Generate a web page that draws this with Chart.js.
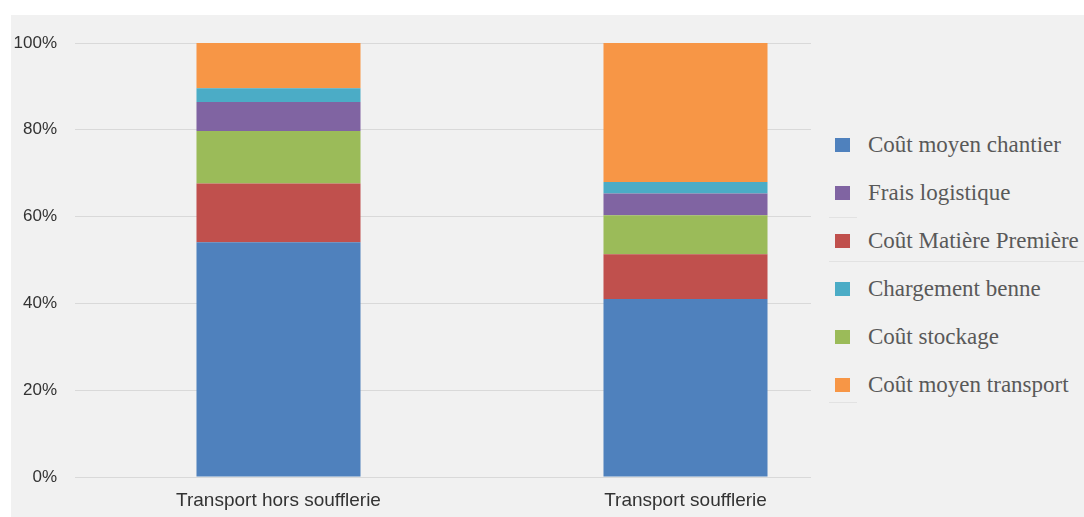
<!DOCTYPE html>
<html lang="fr">
<head>
    <meta charset="UTF-8">
    <title>Répartition des coûts</title>
    <script src="https://cdn.jsdelivr.net/npm/chart.js"></script>
    <style>
        body { margin: 0; background: #ffffff; }
        #wrap { position: relative; width: 1084px; height: 517px; overflow: hidden; }
        #panel { position: absolute; left: 11px; top: 15px; right: 0; bottom: 0; background: #f1f1f1; }
        #chartBox { position: absolute; left: 0; top: 0; width: 1084px; height: 517px; }
        #legend { position: absolute; left: 811px; top: 15px; width: 273px; height: 502px; background: #f1f1f1; }
        .item { position: absolute; left: 0; right: 0; height: 30px; display: flex; align-items: center; }
        .box { position: absolute; left: 24px; width: 15px; height: 14px; }
        .txt { position: absolute; left: 57px; font-family: 'Liberation Serif', serif; font-size: 23px; color: #595959; white-space: nowrap; }
        .sep { position: absolute; left: 18px; height: 1px; background: #e2e2e2; }
    </style>
</head>
<body>
    <div id="wrap">
        <div id="panel"></div>
        <div id="chartBox"><canvas id="costChart"></canvas></div>
        <div id="legend"></div>
    </div>

    <script>
        // categories and values (share of total cost, %)
        const categories = ["Transport hors soufflerie", "Transport soufflerie"];
        const chantier   = [54.1, 41.0];
        const matiere    = [13.5, 10.3];
        const stockage   = [12.1, 9.0];
        const logistique = [6.7, 5.0];
        const chargement = [3.2, 2.7];
        const transport  = [10.4, 32.0];
        const yTicks = [0, 20, 40, 60, 80, 100];

        // legend order as in the original
        const legendOrder = ["Coût moyen chantier", "Frais logistique", "Coût Matière Première",
                             "Chargement benne", "Coût stockage", "Coût moyen transport"];

        const datasets = [
            { label: "Coût moyen chantier",   data: chantier,   backgroundColor: "#4f81bd" },
            { label: "Coût Matière Première", data: matiere,    backgroundColor: "#c0504d" },
            { label: "Coût stockage",         data: stockage,   backgroundColor: "#9bbb59" },
            { label: "Frais logistique",      data: logistique, backgroundColor: "#8064a2" },
            { label: "Chargement benne",      data: chargement, backgroundColor: "#4bacc6" },
            { label: "Coût moyen transport",  data: transport,  backgroundColor: "#f79646" }
        ];

        const chart = new Chart(document.getElementById("costChart"), {
            type: "bar",
            data: { labels: categories, datasets: datasets },
            options: {
                responsive: true,
                maintainAspectRatio: false,
                animation: false,
                layout: { padding: { top: 43, right: 195, bottom: 0, left: 0 } },
                datasets: { bar: { categoryPercentage: 1, barPercentage: 0.403, borderWidth: 0 } },
                plugins: { legend: { display: false }, tooltip: { enabled: false } },
                scales: {
                    x: {
                        stacked: true,
                        grid: { display: false, drawTicks: false },
                        border: { color: "#d9d9d9", width: 1 },
                        ticks: { padding: 12, color: "#333333", font: { family: "'Liberation Sans', Arial, sans-serif", size: 19 } },
                        afterFit: (scale) => { scale.height = 40; }
                    },
                    y: {
                        stacked: true,
                        min: 0,
                        max: 100,
                        afterBuildTicks: (scale) => { scale.ticks = yTicks.map(v => ({ value: v })); },
                        grid: { color: "#d9d9d9", lineWidth: 1, drawTicks: false },
                        border: { display: false },
                        ticks: {
                            padding: 18,
                            color: "#333333",
                            font: { family: "'Liberation Sans', Arial, sans-serif", size: 17 },
                            callback: (v) => v + "%"
                        },
                        afterFit: (scale) => { scale.width = 75; }
                    }
                }
            }
        });

        // HTML legend built from the datasets
        const legend = document.getElementById("legend");
        legendOrder.forEach((name, i) => {
            const ds = chart.data.datasets.find(d => d.label === name);
            const item = document.createElement("div");
            item.className = "item";
            item.style.top = (114.5 + i * 48.1) + "px";
            item.innerHTML = '<span class="box" style="background:' + ds.backgroundColor + '"></span>' +
                             '<span class="txt">' + name + '</span>';
            legend.appendChild(item);
        });

        // faint separators seen in the original legend
        [[202, 28], [246, 255], [387, 28]].forEach(([y, w]) => {
            const s = document.createElement("div");
            s.className = "sep";
            s.style.top = y + "px";
            s.style.width = w + "px";
            legend.appendChild(s);
        });
    </script>
</body>
</html>
